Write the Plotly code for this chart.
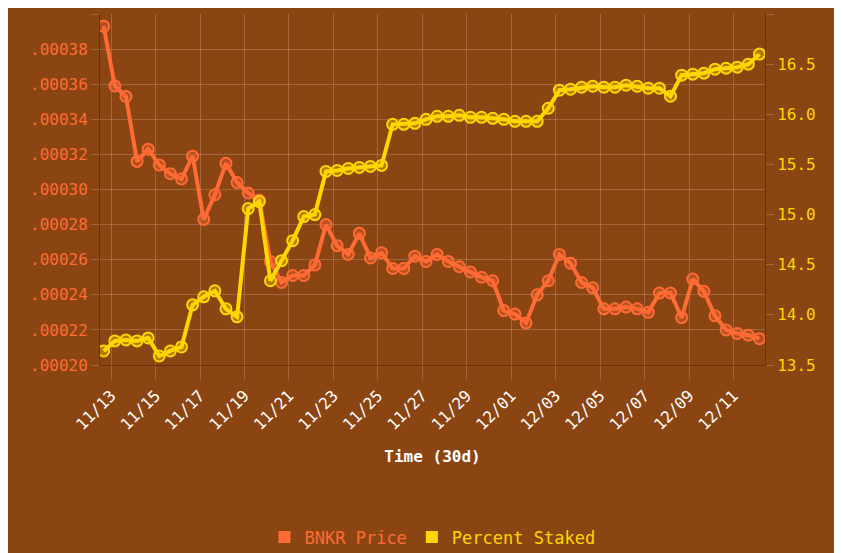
import pandas as pd
import plotly.graph_objects as go

times = pd.date_range("2024-11-12 16:00", periods=60, freq="12h")

bnkr_price = [
    0.000393, 0.000359, 0.000353, 0.000316, 0.000323, 0.000314, 0.000309, 0.000306, 0.000319, 0.000283,
    0.000297, 0.000315, 0.000304, 0.000298, 0.000294, 0.000259, 0.000247, 0.000251, 0.000251, 0.000257,
    0.000280, 0.000268, 0.000263, 0.000275, 0.000261, 0.000264, 0.000255, 0.000255, 0.000262, 0.000259,
    0.000263, 0.000259, 0.000256, 0.000253, 0.000250, 0.000248, 0.000231, 0.000229, 0.000224, 0.000240,
    0.000248, 0.000263, 0.000258, 0.000247, 0.000244, 0.000232, 0.000232, 0.000233, 0.000232, 0.000230,
    0.000241, 0.000241, 0.000227, 0.000249, 0.000242, 0.000228, 0.000220, 0.000218, 0.000217, 0.000215,
]

percent_staked = [
    13.64, 13.74, 13.75, 13.74, 13.77, 13.59, 13.64, 13.68, 14.10, 14.18,
    14.24, 14.06, 13.98, 15.06, 15.13, 14.34, 14.54, 14.74, 14.98, 15.00,
    15.43, 15.44, 15.46, 15.47, 15.48, 15.49, 15.90, 15.90, 15.91, 15.95,
    15.98, 15.98, 15.99, 15.97, 15.97, 15.96, 15.95, 15.93, 15.93, 15.93,
    16.06, 16.24, 16.25, 16.27, 16.28, 16.27, 16.27, 16.29, 16.28, 16.26,
    16.26, 16.18, 16.39, 16.40, 16.41, 16.45, 16.46, 16.47, 16.50, 16.60,
]

left_ticks = [0.00020, 0.00022, 0.00024, 0.00026, 0.00028, 0.00030, 0.00032, 0.00034, 0.00036, 0.00038, 0.00040]
left_labels = [f"{v:.5f}"[1:] for v in left_ticks]

BG = "#8B4513"
ORANGE = "#FF6B35"
GOLD = "#FFD700"
GRID = "rgba(255,255,255,0.18)"
FONT = "DejaVu Sans Mono"

fig = go.Figure()
fig.add_trace(go.Scatter(
    x=times, y=bnkr_price, name="BNKR Price", mode="lines+markers", showlegend=False,
    line=dict(color=ORANGE, width=4),
    marker=dict(size=11, color="rgba(255,107,53,0.35)", line=dict(color=ORANGE, width=2)),
))
fig.add_trace(go.Scatter(
    x=times, y=percent_staked, name="Percent Staked", mode="lines+markers", yaxis="y2", showlegend=False,
    line=dict(color=GOLD, width=4),
    marker=dict(size=11, color="rgba(255,215,0,0.35)", line=dict(color=GOLD, width=2)),
))
# legend swatches (square, coloured text)
for name, col in [("BNKR Price", ORANGE), ("Percent Staked", GOLD)]:
    fig.add_trace(go.Scatter(
        x=[None], y=[None], mode="markers",
        name=f"<span style='color:{col}'>{name}</span>",
        marker=dict(symbol="square", size=18, color=col),
    ))

fig.update_layout(
    width=842, height=553,
    paper_bgcolor=BG, plot_bgcolor=BG,
    font=dict(family=FONT, color="white", size=15),
    margin=dict(l=92, r=85, t=6, b=190),
    xaxis=dict(
        title=dict(text="<b>Time (30d)</b>", font=dict(size=16, color="white"), standoff=18),
        tickformat="%m/%d", dtick=2 * 86400000, tick0="2024-11-13",
        tickangle=-45, tickfont=dict(size=16, color="white"),
        range=["2024-11-12 12:00", "2024-12-12 10:00"],
        showgrid=True, gridcolor=GRID, ticks="outside", tickcolor=GRID, ticklen=14,
        linecolor="rgba(80,40,10,0.6)", showline=True,
    ),
    yaxis=dict(
        range=[0.0002, 0.0004], tickvals=left_ticks, ticktext=left_labels,
        tickfont=dict(color=ORANGE, size=16), showgrid=True, gridcolor=GRID,
        zeroline=False, linecolor="rgba(80,40,10,0.6)", showline=True,
        ticks="outside", tickcolor=GRID, ticklen=8,
    ),
    yaxis2=dict(
        range=[13.5, 17.0], dtick=0.5, tickformat=".1f", overlaying="y", side="right",
        tickfont=dict(color=GOLD, size=16), showgrid=False, zeroline=False,
        linecolor="rgba(80,40,10,0.6)", showline=True, ticks="outside", tickcolor=GRID, ticklen=8,
    ),
    legend=dict(orientation="h", x=0.5, xanchor="center", y=-0.44, yanchor="top",
                font=dict(size=17), itemsizing="constant", itemwidth=30),
)

fig.write_html("out.html")
